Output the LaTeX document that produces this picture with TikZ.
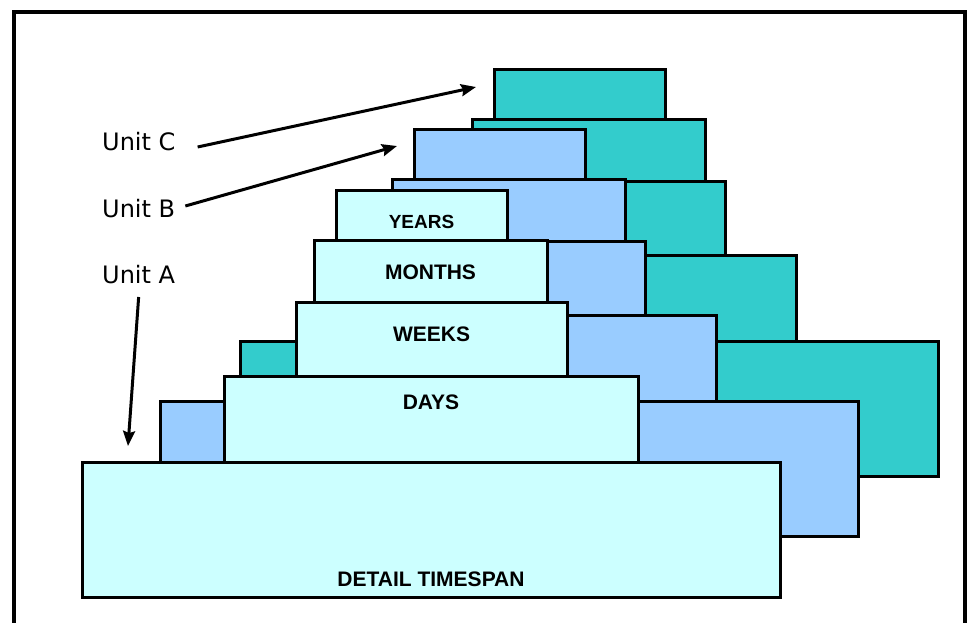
\documentclass[tikz,border=0pt]{standalone}
\usepackage{fontspec}
\setmainfont{DejaVu Sans}
\newfontfamily\slabfont{Liberation Sans}
\usetikzlibrary{arrows.meta}

\definecolor{unitA}{HTML}{CCFFFF}
\definecolor{unitB}{HTML}{99CCFF}
\definecolor{unitC}{HTML}{33CCCC}

\tikzset{
  slab/.style={draw, rectangle, line width=3pt, inner sep=0pt, outer sep=0pt, anchor=north west},
  slabtext/.style={font=\slabfont\bfseries\fontsize{21}{21}\selectfont, anchor=base, inner sep=0pt},
  unitlabel/.style={font=\fontsize{24}{24}\selectfont, anchor=base west, inner sep=0pt},
  pointer/.style={line width=3pt, -{Stealth[length=15pt,width=12pt,inset=2pt]}}
}

\begin{document}
\begin{tikzpicture}[x=1pt, y=-1pt]
      \useasboundingbox (0,0) rectangle (968,622);
      % Frame
      \draw[line width=3.5pt] (14,640) |- (965,12) -- (965,640);
      % Define slabs, back unit first
      \foreach \u/\dx/\dy/\col in {c/158/-121/unitC, b/78/-61/unitB, a/0/0/unitA} {
        \begin{scope}[shift={(\dx,\dy)}]
          \foreach \n/\x/\y/\w/\h in {span/82/462/698/135, days/224/376/414/86,
              weeks/296/302/271/74, months/314/240/233/62, years/336/190/171/50}
            \node[slab, fill=\col, minimum width=\w pt, minimum height=\h pt] (\u-\n) at (\x,\y) {};
        \end{scope}
      }
      % Slab texts
      \node[slabtext, font=\slabfont\bfseries\fontsize{19}{19}\selectfont] (tyears) at ([yshift=-38pt]a-years.north) {YEARS};
      \node[slabtext] (tmonths) at ([yshift=-39pt]a-months.north) {MONTHS};
      \node[slabtext] (tweeks) at ([yshift=-39pt]a-weeks.north) {WEEKS};
      \node[slabtext] (tdays) at ([yshift=-33pt]a-days.north) {DAYS};
      \node[slabtext] (tspan) at ([yshift=11pt]a-span.south) {DETAIL TIMESPAN};
      % Unit labels
      \node[unitlabel] (labC) at (102,150) {Unit C};
      \node[unitlabel] (labB) at (102,217) {Unit B};
      \node[unitlabel] (labA) at (102,283) {Unit A};
      \coordinate (tipC) at (476,87);
      \coordinate (tipB) at (397,146);
      \coordinate (tipA) at (128,446);
      % Connect labels
      \draw[pointer] ([xshift=22pt,yshift=3pt]labC.base east) -- (tipC);
      \draw[pointer] ([xshift=10pt,yshift=11pt]labB.base east) -- (tipB);
      \draw[pointer] ([yshift=-14pt]labA.base) -- (tipA);
    \end{tikzpicture}
\end{document}
